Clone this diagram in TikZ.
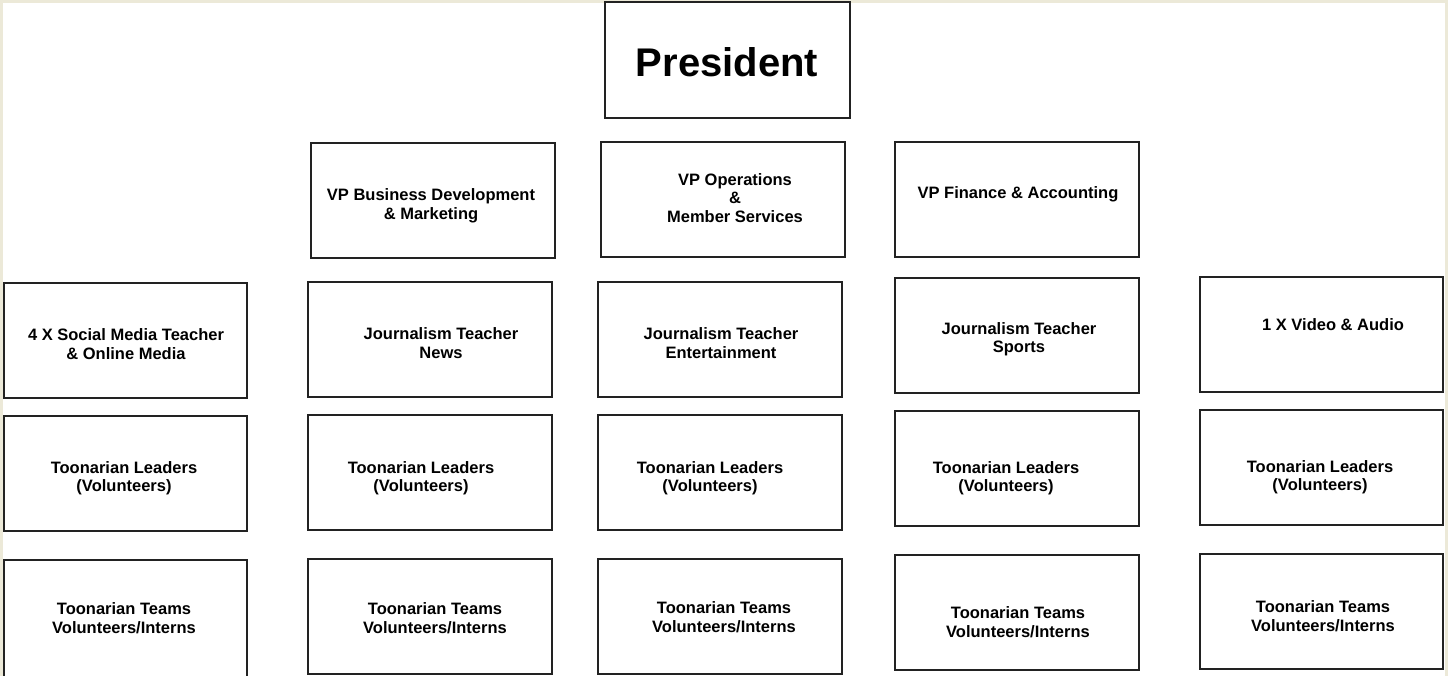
\documentclass[tikz,border=0pt]{standalone}
\usepackage{fontspec}
\setmainfont{Liberation Sans}
\definecolor{framebeige}{HTML}{ECE9D8}
\definecolor{boxline}{HTML}{222222}
\newcommand\orgbox[8]{%
  \node[orgrect, minimum width={(#4-#2)*1pt}, minimum height={(#5-#3)*1pt}] (#1) at ({(#2+#4)/2},{(#3+#5)/2}) {};
  \node[orgtext] (#1t) at (#6,#7) {#8};
}
\begin{document}
\begin{tikzpicture}[x=1pt,y=-1pt,
  orgrect/.style={draw=boxline, line width=1.2pt, fill=white, inner sep=0pt, outer sep=0pt},
  orgtext/.style={font=\bfseries\fontsize{16.5}{18.5}\selectfont, align=center, inner sep=0pt},
  prestext/.style={font=\bfseries\fontsize{40}{44}\selectfont, inner sep=0pt}]
\useasboundingbox (0,0) rectangle (1448,675);
\fill[white] (0,0) rectangle (1448,675);
\draw[framebeige, line width=3pt] (1.5,676) -- (1.5,1.5) -- (1446.5,1.5) -- (1446.5,676);
% President
\node[orgrect, minimum width=245pt, minimum height=116pt] (pres) at (727.5,60) {};
\node[prestext] (prest) at (727,62) {President};
% VPs
\orgbox{vpbd}{311}{143}{555}{258}{431}{206}{VP Business Development\\\& Marketing}
\orgbox{vpop}{601}{142}{845}{257}{735}{198}{VP Operations\\\&\\Member Services}
\orgbox{vpfi}{895}{142}{1139}{257}{1018}{194}{VP Finance \& Accounting}
% Row 3
\orgbox{soc}{4}{283}{247}{398}{126}{344}{4 X Social Media Teacher\\\& Online Media}
\orgbox{news}{308}{282}{552}{397}{441}{343}{Journalism Teacher\\News}
\orgbox{ent}{598}{282}{842}{397}{721}{343}{Journalism Teacher\\Entertainment}
\orgbox{spo}{895}{278}{1139}{393}{1019}{339}{Journalism Teacher\\Sports}
\orgbox{vid}{1200}{277}{1443}{392}{1333}{325}{1 X Video \& Audio}
% Row 4
\orgbox{leada}{4}{416}{247}{531}{124}{478}{Toonarian Leaders\\(Volunteers)}
\orgbox{leadb}{308}{415}{552}{530}{421}{478}{Toonarian Leaders\\(Volunteers)}
\orgbox{leadc}{598}{415}{842}{530}{710}{478}{Toonarian Leaders\\(Volunteers)}
\orgbox{leadd}{895}{411}{1139}{526}{1006}{478}{Toonarian Leaders\\(Volunteers)}
\orgbox{leade}{1200}{410}{1443}{525}{1320}{477}{Toonarian Leaders\\(Volunteers)}
% Row 5
\orgbox{teama}{4}{560}{247}{677}{124}{618}{Toonarian Teams\\Volunteers/Interns}
\orgbox{teamb}{308}{559}{552}{674}{435}{618}{Toonarian Teams\\Volunteers/Interns}
\orgbox{teamc}{598}{559}{842}{674}{724}{617}{Toonarian Teams\\Volunteers/Interns}
\orgbox{teamd}{895}{555}{1139}{670}{1018}{622}{Toonarian Teams\\Volunteers/Interns}
\orgbox{teame}{1200}{554}{1443}{669}{1323}{616}{Toonarian Teams\\Volunteers/Interns}
\end{tikzpicture}
\end{document}
